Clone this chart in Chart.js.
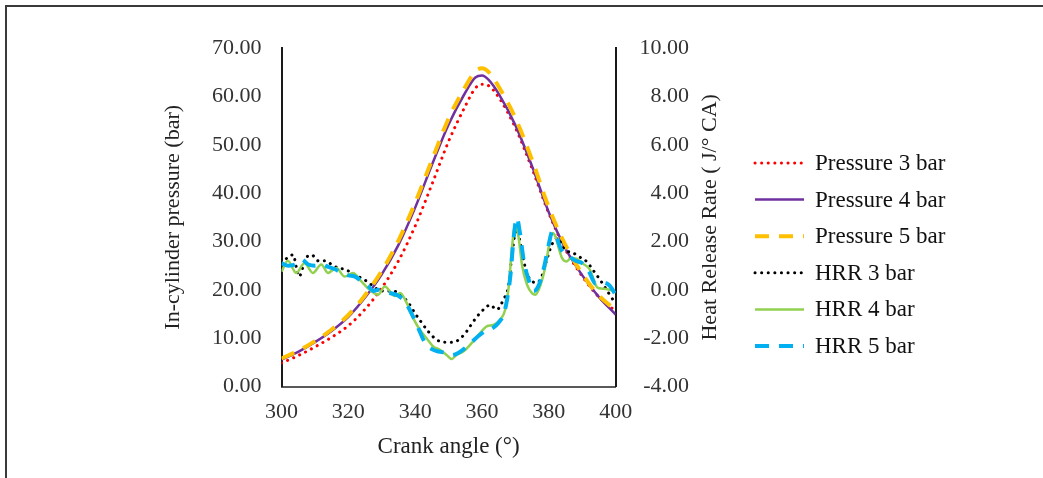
<!DOCTYPE html>
<html>
<head>
<meta charset="utf-8">
<script src="https://cdn.jsdelivr.net/npm/chart.js@4"></script>
<style>
  html, body { margin: 0; padding: 0; background: #fff; }
  #wrap { position: relative; width: 1043px; height: 478px; overflow: hidden; }
  #frame { position: absolute; left: 5px; top: 5px; width: 1100px; height: 520px;
           border-left: 2px solid #3a3a3a; border-top: 2px solid #3a3a3a; }
  #chart_cyl { position: absolute; left: 0; top: 0; }
</style>
</head>
<body>
<div id="wrap">
  <div id="frame"></div>
  <canvas id="chart_cyl" width="1043" height="478"></canvas>
</div>
<script>
// ---- presion en cilindro (eje izquierdo, bar) ----
const ang_p = [300, 305, 310, 315, 320, 325, 330, 335, 340, 345, 350, 355, 358, 360, 362, 365, 370, 375, 380, 385, 390, 395, 400];
const p_3bar = [4.9, 6.4, 8.2, 10.2, 12.6, 16.0, 20.4, 26.0, 33.2, 41.8, 50.7, 58.0, 61.7, 62.5, 62.2, 59.8, 53.5, 45.0, 35.8, 28.3, 22.8, 18.5, 15.6];
const p_4bar = [5.6, 7.2, 9.2, 11.5, 14.4, 18.4, 23.2, 29.3, 37.0, 45.8, 54.2, 60.8, 63.9, 64.3, 63.4, 60.5, 54.0, 45.5, 36.0, 28.5, 23.0, 18.5, 14.9];
const p_5bar = [5.8, 7.4, 9.4, 11.8, 14.8, 18.9, 23.9, 30.2, 38.0, 46.8, 55.4, 62.0, 65.2, 65.8, 65.0, 62.0, 55.5, 46.8, 37.0, 29.2, 23.3, 18.8, 15.8];

// ---- tasa de liberacion de calor (eje derecho, J/deg CA) ----
const ang_h3 = [300, 302, 303.5, 304.5, 305.3, 306.3, 307.3, 309, 311, 313, 315, 317, 319, 321, 323, 325, 327, 329, 331, 333, 334.5, 336, 337.9, 339.9, 341.9, 343.9, 346.4, 348.9, 351.4, 353.4, 355.4, 357.4, 359.4, 361, 362.4, 364.4, 366.4, 367.9, 369, 370.3, 371.5, 372.8, 374.5, 376.5, 378, 379.5, 381, 382.7, 384, 385.5, 387.2, 389.3, 391.3, 393.3, 395.3, 397.3, 399.2, 400];
const hrr_3bar = [1.1, 1.35, 1.45, 0.9, 0.55, 0.9, 1.3, 1.45, 1.2, 1.2, 1.05, 0.9, 0.85, 0.7, 0.55, 0.4, 0.2, 0.0, -0.05, -0.05, -0.09, -0.25, -0.52, -0.96, -1.35, -1.72, -2.06, -2.17, -2.17, -2.02, -1.72, -1.31, -0.96, -0.75, -0.62, -0.82, -0.4, 0.15, 1.5, 2.5, 1.9, 1.0, 0.4, 0.3, 0.6, 1.3, 1.9, 2.15, 1.8, 1.6, 1.53, 1.35, 1.17, 0.8, 0.42, 0.0, -0.4, -0.45];

const ang_h4 = [300, 301.9, 304.4, 306.9, 309.4, 311.9, 313.9, 316.4, 318.9, 321.4, 323.9, 326.4, 328.9, 330.9, 333.9, 335.5, 337.5, 339.4, 341.4, 343.4, 345.4, 347.4, 349.4, 350.9, 352.4, 354.4, 356.9, 359.4, 361.4, 363.4, 365.4, 366.9, 368, 369, 369.9, 370.8, 372, 373.5, 375, 376, 377.5, 379, 380, 381, 382, 383, 384, 385.3, 386.5, 388, 390, 392.3, 393.5, 394.5, 396, 398.3, 400];
const hrr_4bar = [0.75, 1.2, 0.7, 1.1, 0.7, 1.05, 0.7, 0.9, 0.55, 0.7, 0.35, 0.0, -0.2, 0.14, -0.25, -0.13, -0.55, -1.17, -1.65, -2.0, -2.34, -2.48, -2.69, -2.86, -2.69, -2.55, -2.2, -1.79, -1.51, -1.45, -1.24, -0.83, 0.15, 1.8, 2.65, 2.3, 1.0, 0.2, -0.15, -0.2, 0.2, 1.0, 1.8, 2.35, 2.2, 1.7, 1.3, 1.17, 1.3, 1.3, 1.1, 0.83, 0.4, 0.1, 0.05, 0.0, -0.1];

const ang_h5 = [300, 302, 304, 306, 308, 310, 312, 314, 316, 318, 320, 322, 324, 326, 327.5, 329, 331, 333, 335, 337, 339, 341, 343, 345, 347, 349, 351, 353, 355, 357, 359, 361, 363, 365, 366.5, 367.5, 368.5, 369.5, 370.4, 371.3, 372.5, 374, 375.5, 377, 378.5, 380, 381, 382, 383, 384, 386, 388, 390, 392, 394, 396, 398, 400];
const hrr_5bar = [1.1, 1.0, 1.05, 1.25, 1.05, 1.0, 1.05, 0.95, 0.85, 0.7, 0.6, 0.55, 0.35, 0.15, -0.05, 0.0, -0.1, -0.15, -0.25, -0.5, -1.0, -1.6, -2.2, -2.45, -2.55, -2.6, -2.7, -2.6, -2.4, -2.15, -1.9, -1.7, -1.6, -1.35, -1.0, -0.4, 0.6, 2.2, 2.98, 2.4, 1.2, 0.4, -0.05, 0.2, 0.9, 1.9, 2.4, 2.3, 1.9, 1.6, 1.4, 1.2, 1.1, 0.75, 0.25, 0.3, 0.2, -0.2];

const x_ticks = [300, 320, 340, 360, 380, 400];
const titulo_y2 = "Heat Release Rate ( J/° CA)";

function pares(xs, ys) {
	return xs.map((a, i) => ({ x: a, y: ys[i] }));
}

const fuente = "'Liberation Serif', 'Times New Roman', serif";
const punteado = [0.1, 6.5];
const guiones = [14, 10];

// leyenda y titulo derecho dibujados a mano
// (la leyenda de Chart.js no respeta el trazo punteado, y el titulo derecho va de abajo hacia arriba)
const extras = {
	id: "extras",
	afterDraw(chart) {
		const c = chart.ctx;
		const x0 = 755, largo = 49, y0 = 163, paso = 36.6;
		chart.data.datasets.forEach((ds, i) => {
			const y = y0 + i * paso;
			c.save();
			c.beginPath();
			c.strokeStyle = ds.borderColor;
			c.lineWidth = ds.borderWidth;
			c.lineCap = ds.borderCapStyle || "butt";
			c.setLineDash(ds.borderDash || []);
			c.moveTo(x0, y);
			c.lineTo(x0 + largo, y);
			c.stroke();
			c.setLineDash([]);
			c.fillStyle = "#111";
			c.font = "23px " + fuente;
			c.textBaseline = "middle";
			c.textAlign = "left";
			c.fillText(ds.label, x0 + largo + 11, y + 1);
			c.restore();
		});

		const area = chart.chartArea;
		c.save();
		c.translate(710, (area.top + area.bottom) / 2);
		c.rotate(-Math.PI / 2);
		c.fillStyle = "#222";
		c.font = "22px " + fuente;
		c.textAlign = "center";
		c.textBaseline = "middle";
		c.fillText(titulo_y2, 0, 0);
		c.restore();
	},
};

const ctx = document.getElementById("chart_cyl").getContext("2d");

let chart_cyl = new Chart(ctx, {
	type: "line",
	data: {
		datasets: [
			{
				label: "Pressure 3 bar",
				data: pares(ang_p, p_3bar),
				yAxisID: "y",
				borderColor: "#ff0000",
				borderWidth: 3,
				borderDash: punteado,
				borderCapStyle: "round",
				order: 6,
			},
			{
				label: "Pressure 4 bar",
				data: pares(ang_p, p_4bar),
				yAxisID: "y",
				borderColor: "#7030a0",
				borderWidth: 2.5,
				order: 5,
			},
			{
				label: "Pressure 5 bar",
				data: pares(ang_p, p_5bar),
				yAxisID: "y",
				borderColor: "#ffc000",
				borderWidth: 4,
				borderDash: guiones,
				order: 4,
			},
			{
				label: "HRR 3 bar",
				data: pares(ang_h3, hrr_3bar),
				yAxisID: "y2",
				borderColor: "#000000",
				borderWidth: 3,
				borderDash: punteado,
				borderCapStyle: "round",
				order: 3,
			},
			{
				label: "HRR 4 bar",
				data: pares(ang_h4, hrr_4bar),
				yAxisID: "y2",
				borderColor: "#92d050",
				borderWidth: 2.5,
				order: 2,
			},
			{
				label: "HRR 5 bar",
				data: pares(ang_h5, hrr_5bar),
				yAxisID: "y2",
				borderColor: "#00b0f0",
				borderWidth: 4,
				borderDash: guiones,
				order: 1,
			},
		],
	},
	options: {
		responsive: false,
		animation: false,
		events: [],
		elements: {
			point: { radius: 0 },
			line: { cubicInterpolationMode: "monotone", fill: false },
		},
		layout: {
			padding: { left: 155.6, right: 354, top: 48, bottom: 9.4 },
		},
		plugins: {
			tooltip: { enabled: false },
			legend: { display: false },
		},
		scales: {
			x: {
				type: "linear",
				min: 300,
				max: 400,
				afterBuildTicks: (s) => { s.ticks = x_ticks.map(v => ({ value: v })); },
				grid: { display: false, drawTicks: false },
				border: { display: true, color: "#595959", width: 2 },
				ticks: {
					padding: 12,
					color: "#333",
					font: { family: fuente, size: 22 },
				},
				title: {
					display: true,
					text: "Crank angle (°)",
					color: "#222",
					font: { family: fuente, size: 23 },
					padding: { top: -4, bottom: 8 },
				},
			},
			y: {
				position: "left",
				min: 0,
				max: 70,
				ticks: {
					stepSize: 10,
					padding: 20,
					color: "#333",
					font: { family: fuente, size: 22 },
					callback: (v) => v.toFixed(2),
				},
				grid: { display: false, drawTicks: false },
				border: { display: true, color: "#1a1a1a", width: 2 },
				title: {
					display: true,
					text: "In-cylinder pressure (bar)",
					color: "#222",
					font: { family: fuente, size: 22 },
					padding: { top: 4, bottom: 6 },
				},
			},
			y2: {
				position: "right",
				min: -4,
				max: 10,
				afterFit: (s) => { s.width = 73.3; },
				ticks: {
					stepSize: 2,
					padding: 24,
					crossAlign: "far",
					color: "#333",
					font: { family: fuente, size: 22 },
					callback: (v) => v.toFixed(2),
				},
				grid: { display: false, drawTicks: false },
				border: { display: true, color: "#1a1a1a", width: 2 },
			},
		},
	},
	plugins: [extras],
});
</script>
</body>
</html>
